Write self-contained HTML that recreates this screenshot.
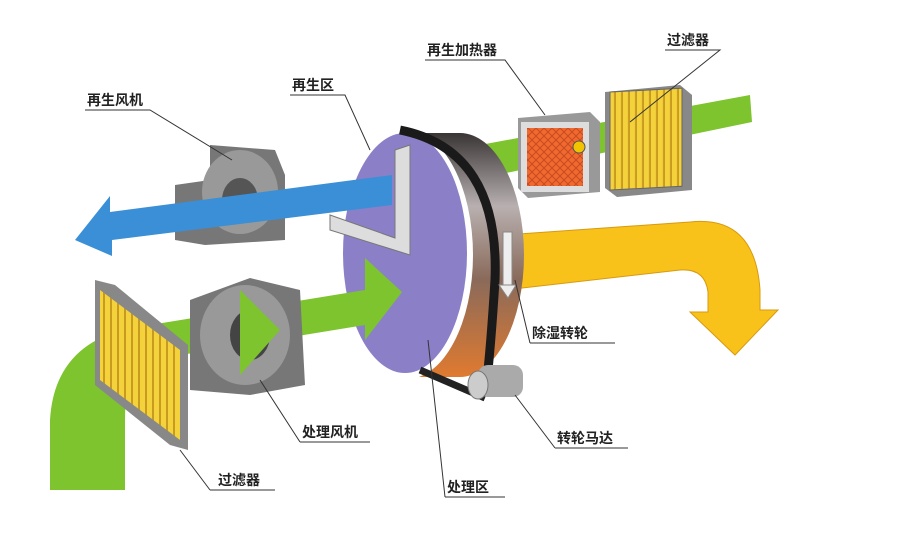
<!DOCTYPE html>
<html><head><meta charset="utf-8"><style>
html,body{margin:0;padding:0;background:#fff;width:899px;height:545px;overflow:hidden}
text{font-family:"Liberation Sans","Noto Sans CJK SC",sans-serif;font-size:14px;font-weight:bold;fill:#222}
</style></head><body>
<svg width="899" height="545" viewBox="0 0 899 545" xmlns="http://www.w3.org/2000/svg">
<defs>
<pattern id="fy" width="7" height="10" patternUnits="userSpaceOnUse"><rect width="7" height="10" fill="#f3d23c"/><rect x="5" width="2" height="10" fill="#c89a20"/></pattern>
<pattern id="fo" width="8" height="8" patternUnits="userSpaceOnUse"><rect width="8" height="8" fill="#f06a30"/><path d="M0 0L8 8M8 0L0 8" stroke="#c84a20" stroke-width="1"/></pattern>
<linearGradient id="rim" x1="0" y1="0" x2="0" y2="1"><stop offset="0" stop-color="#3a3535"/><stop offset="0.3" stop-color="#b8b0b0"/><stop offset="0.6" stop-color="#8a6a5a"/><stop offset="1" stop-color="#e07a30"/></linearGradient>
</defs>
<polygon points="480,145 750,95 752,122 482,178" fill="#7dc42e"/>
<polygon points="605,92 680,85 692,95 692,190 617,197 605,188" fill="#888"/>
<rect x="610" y="92" width="72" height="98" fill="url(#fy)" stroke="#666" transform="skewY(-3) translate(0,32)"/>
<polygon points="518,118 590,112 600,122 600,192 528,198 518,188" fill="#999"/>
<rect x="521" y="122" width="68" height="70" fill="#ddd"/>
<rect x="527" y="128" width="56" height="58" fill="url(#fo)"/>
<circle cx="579" cy="147" r="6" fill="#f2c400" stroke="#555"/>
<path d="M505,235 L690,222 Q755,215 760,290 L760,310 L778,310 L735,355 L690,312 L708,312 L708,292 Q705,268 680,270 L505,290 Z" fill="#f8c21a" stroke="#d89a10"/>
<ellipse cx="460" cy="255" rx="64" ry="122" fill="url(#rim)"/>
<rect x="407" y="133" width="53" height="244" fill="url(#rim)"/>
<ellipse cx="407" cy="255" rx="66" ry="124" fill="#fff"/>
<ellipse cx="405" cy="253" rx="62" ry="120" fill="#8b80c8"/>
<path d="M400,130 Q500,150 495,280 Q490,360 485,395" stroke="#1a1a1a" stroke-width="9" fill="none"/>
<path d="M420,370 L485,398" stroke="#222" stroke-width="7"/>
<rect x="503" y="232" width="9" height="55" fill="#eee" stroke="#888"/>
<polygon points="499,285 516,285 508,298" fill="#eee" stroke="#888"/>
<rect x="478" y="365" width="45" height="32" rx="10" fill="#aaa"/>
<ellipse cx="478" cy="385" rx="10" ry="14" fill="#ccc" stroke="#777"/>
<!-- regen fan -->
<polygon points="175,185 210,180 210,145 275,150 285,175 285,240 205,245 175,240" fill="#777"/>
<ellipse cx="240" cy="192" rx="38" ry="42" fill="#999"/>
<ellipse cx="240" cy="200" rx="18" ry="22" fill="#555"/>
<!-- blue arrow -->
<polygon points="392,175 392,205 112,240 112,256 75,240 110,196 110,212" fill="#3b8fd6"/>
<!-- L bracket -->
<polygon points="395,150 410,145 410,255 330,230 330,215 395,238" fill="#ddd" stroke="#777"/>
<!-- green bottom pipe -->
<path d="M50,490 L50,420 Q55,335 150,325 L365,290 L365,258 L402,292 L365,340 L365,325 L150,360 Q125,365 125,420 L125,490 Z" fill="#7dc42e"/>
<polygon points="190,300 250,278 300,290 305,385 250,395 190,390" fill="#777"/>
<ellipse cx="245" cy="335" rx="45" ry="50" fill="#999"/>
<ellipse cx="250" cy="335" rx="20" ry="25" fill="#444"/>
<polygon points="240,290 280,330 240,375" fill="#7dc42e"/>
<polygon points="95,280 115,285 188,345 188,450 170,445 95,385" fill="#888"/>
<polygon points="100,290 180,350 180,440 100,380" fill="url(#fy)"/>
<g stroke="#333" stroke-width="1" fill="none">
<path d="M85,110 H150 L232,160"/>
<path d="M290,95 H345 L370,150"/>
<path d="M425,60 H505 L545,115"/>
<path d="M665,50 H720 L630,122"/>
<path d="M530,343 H615 M530,343 L515,280"/>
<path d="M300,442 H370 M300,442 L260,380"/>
<path d="M555,448 H628 M555,448 L515,395"/>
<path d="M210,490 H275 M210,490 L180,450"/>
<path d="M445,497 H505 M445,497 L428,340"/>
</g>
<text x="87" y="105">再生风机</text>
<text x="292" y="90">再生区</text>
<text x="427" y="55">再生加热器</text>
<text x="667" y="45">过滤器</text>
<text x="532" y="338">除湿转轮</text>
<text x="302" y="437">处理风机</text>
<text x="557" y="443">转轮马达</text>
<text x="218" y="485">过滤器</text>
<text x="447" y="492">处理区</text>
</svg>
</body></html>
